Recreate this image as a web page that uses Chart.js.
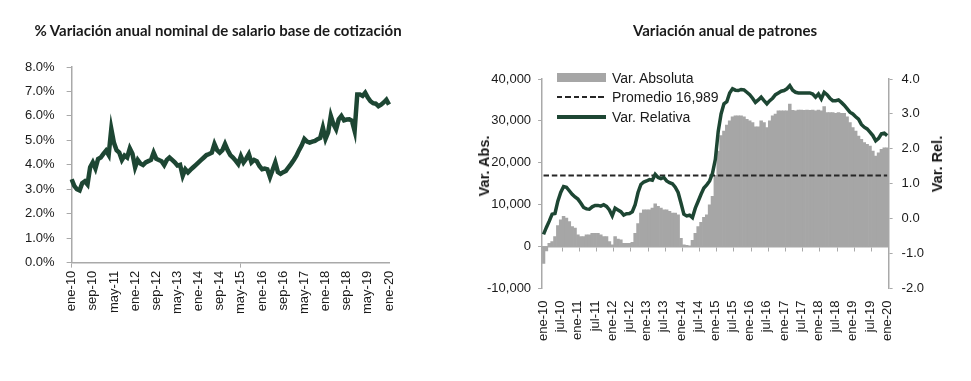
<!DOCTYPE html>
<html lang="es">
<head>
<meta charset="utf-8">
<script src="https://cdn.jsdelivr.net/npm/chart.js@4.4.1/dist/chart.umd.min.js"></script>
<style>
  body { margin: 0; background: #fff; width: 971px; height: 381px; position: relative; overflow: hidden;
         font-family: "Liberation Sans", Arial, sans-serif; color: #1a1a1a; }
  .caja { position: absolute; top: 0; height: 381px; }
  .titulo { position: absolute; font: bold 15px Lato, sans-serif; white-space: nowrap; transform: translate(-50%, -50%); }
  .eje { position: absolute; font: bold 14.5px "Liberation Sans", Arial, sans-serif; white-space: nowrap;
         transform: translate(-50%, -50%) rotate(-90deg); }
  .ley { position: absolute; font-size: 14px; white-space: nowrap; transform: translateY(-50%); }
  .marca { position: absolute; }
</style>
</head>
<body>
<div class="caja" style="left:0;width:480px"><canvas id="grafSalario" width="480" height="381"></canvas></div>
<div class="caja" style="left:480px;width:491px"><canvas id="grafPatrones" width="491" height="381"></canvas></div>

<div class="titulo" style="left:218px;top:30px">% Variación anual nominal de salario base de cotización</div>
<div class="titulo" style="left:725px;top:30px">Variación anual de patrones</div>
<div class="eje" style="left:484px;top:166px">Var. Abs.</div>
<div class="eje" style="left:937px;top:164px">Var. Rel.</div>

<!-- leyenda del gráfico de patrones -->
<div class="marca" style="left:557px;top:73px;width:49px;height:9px;background:#a6a6a6"></div>
<div class="ley" style="left:612px;top:77.5px">Var. Absoluta</div>
<div class="marca" style="left:557px;top:96px;width:49px;height:2px;background:repeating-linear-gradient(90deg,#262626 0 5.5px,transparent 5.5px 8.3px)"></div>
<div class="ley" style="left:612px;top:97px">Promedio 16,989</div>
<div class="marca" style="left:557px;top:115px;width:49px;height:3.5px;background:#1d4633"></div>
<div class="ley" style="left:612px;top:117px">Var. Relativa</div>

<script>
// Etiquetas mensuales ene-10 ... ene-20
const mesesNombres = ['ene', 'feb', 'mar', 'abr', 'may', 'jun', 'jul', 'ago', 'sep', 'oct', 'nov', 'dic'];
const etiquetas = [];
for (let a = 10; a <= 20; a++) {
    for (let m = 0; m < 12; m++) {
        if (a === 20 && m > 0) break;
        etiquetas.push(mesesNombres[m] + '-' + a);
    }
}

// % variación anual nominal del salario base de cotización
const salarioVar = [
    3.41, 3.14, 3.00, 2.95, 3.25, 3.33, 3.20, 3.90, 4.10, 3.85,
    4.24, 4.30, 4.45, 4.58, 4.40, 5.47, 4.90, 4.60, 4.50, 4.20,
    4.38, 4.30, 4.67, 4.45, 3.90, 4.20, 4.05, 3.99, 4.10, 4.15,
    4.20, 4.50, 4.25, 4.20, 4.15, 3.99, 4.20, 4.30, 4.20, 4.10,
    3.97, 4.00, 3.55, 3.82, 3.69, 3.80, 3.90, 4.00, 4.10, 4.20,
    4.30, 4.40, 4.44, 4.50, 4.85, 4.60, 4.50, 4.60, 4.85, 4.60,
    4.40, 4.30, 4.17, 4.03, 4.35, 4.10, 4.25, 4.44, 4.10, 4.20,
    4.15, 3.95, 3.82, 3.85, 3.82, 3.50, 3.80, 4.10, 3.70, 3.63,
    3.70, 3.75, 3.90, 4.04, 4.20, 4.37, 4.60, 4.80, 5.06, 4.95,
    4.91, 4.95, 4.98, 5.05, 5.10, 5.52, 5.06, 5.33, 6.00, 5.66,
    5.45, 5.86, 6.00, 5.82, 5.85, 5.86, 5.80, 5.39, 6.88, 6.88,
    6.82, 6.95, 6.75, 6.60, 6.52, 6.50, 6.40, 6.46, 6.55, 6.66,
    6.46
];

// Variación anual de patrones (absoluta)
const varAbsoluta = [
    -4000, -1000, 800, 1200, 2400, 5000, 6400, 7200, 6800, 6000,
    4800, 4400, 2800, 2400, 2400, 2800, 2800, 3200, 3200, 3200,
    2800, 2400, 2400, 1200, 400, 2400, 1800, 1600, 800, 800,
    800, 1000, 3200, 5500, 8000, 8800, 8800, 8800, 9200, 10200,
    9600, 9200, 8800, 8800, 8400, 8000, 8000, 7600, 2000, 400,
    300, 200, 1500, 3200, 4800, 5800, 7000, 7600, 10000, 12000,
    17000, 22800, 26500, 27600, 29000, 30000, 31000, 31200, 31200, 31200,
    31000, 30400, 30000, 29600, 28600, 28600, 30000, 29600, 28400, 30000,
    31200, 31600, 32400, 32400, 32400, 32400, 34000, 32500, 32400, 32600,
    32600, 32500, 32600, 32500, 32600, 32400, 32600, 32400, 33400, 32000,
    32000, 32000, 31800, 32000, 31800, 31800, 31000, 29600, 28400, 27600,
    26400, 25600, 24800, 24400, 24000, 22800, 21600, 22400, 23200, 23600,
    23600
];

// Variación anual de patrones (relativa, %)
const varRelativa = [
    -0.45, -0.25, -0.07, 0.13, 0.15, 0.50, 0.75, 0.92, 0.90, 0.80,
    0.70, 0.62, 0.56, 0.45, 0.32, 0.28, 0.27, 0.34, 0.38, 0.38,
    0.36, 0.40, 0.35, 0.25, 0.08, 0.30, 0.25, 0.20, 0.10, 0.14,
    0.15, 0.20, 0.40, 0.75, 0.98, 1.05, 1.08, 1.12, 1.10, 1.27,
    1.18, 1.15, 1.18, 1.08, 1.03, 1.00, 0.90, 0.75, 0.45, 0.13,
    0.08, 0.10, 0.03, 0.30, 0.50, 0.70, 0.88, 0.97, 1.08, 1.30,
    1.70, 2.50, 3.00, 3.29, 3.35, 3.60, 3.72, 3.68, 3.67, 3.70,
    3.69, 3.62, 3.55, 3.45, 3.33, 3.40, 3.48, 3.38, 3.29, 3.38,
    3.45, 3.55, 3.60, 3.65, 3.67, 3.72, 3.81, 3.68, 3.62, 3.60,
    3.60, 3.60, 3.60, 3.60, 3.57, 3.48, 3.57, 3.43, 3.62, 3.55,
    3.45, 3.38, 3.38, 3.40, 3.33, 3.25, 3.15, 3.05, 3.00, 2.92,
    2.85, 2.70, 2.62, 2.57, 2.48, 2.38, 2.23, 2.30, 2.43, 2.45,
    2.38
];

const promedio = 16989;

const verde = '#1d4633';
const grisEje = '#a9a9a9';
const colorTexto = '#1a1a1a';
const fuente = { family: '"Liberation Sans", Arial, sans-serif', size: 13 };
const transparente = 'rgba(0,0,0,0)';

// Gráfico izquierdo: salario base de cotización
new Chart(document.getElementById('grafSalario'), {
    type: 'line',
    data: {
        labels: etiquetas,
        datasets: [{ data: salarioVar, borderColor: verde, borderWidth: 4.5, pointRadius: 0, fill: false }]
    },
    options: {
        responsive: false, animation: false,
        layout: { padding: { top: 67, left: 13, right: 91, bottom: 64 } },
        plugins: { legend: { display: false }, tooltip: { enabled: false } },
        scales: {
            x: {
                offset: false,
                grid: { drawOnChartArea: false, tickLength: 5, tickColor: ctx => ctx.index % 8 === 0 ? grisEje : transparente },
                border: { color: grisEje, width: 1.5 },
                ticks: {
                    autoSkip: false, minRotation: 90, maxRotation: 90, padding: 3, color: colorTexto, font: fuente,
                    callback: (v, i) => i % 8 === 0 ? etiquetas[i] : null
                }
            },
            y: {
                min: 0, max: 8,
                grid: { drawOnChartArea: false, tickLength: 5, tickColor: grisEje },
                border: { color: grisEje, width: 1.5 },
                ticks: { stepSize: 1, padding: 12, color: colorTexto, font: fuente, callback: v => v.toFixed(1) + '%' }
            }
        }
    }
});

// Gráfico derecho: variación anual de patrones
new Chart(document.getElementById('grafPatrones'), {
    type: 'bar',
    data: {
        labels: etiquetas,
        datasets: [
            { type: 'line', label: 'Var. Relativa', data: varRelativa, yAxisID: 'y1', borderColor: verde, borderWidth: 3.5, pointRadius: 0, order: 1 },
            { type: 'line', label: 'Promedio 16,989', data: etiquetas.map(() => promedio), yAxisID: 'y', borderColor: '#262626', borderWidth: 2, borderDash: [5.5, 2.8], pointRadius: 0, order: 2 },
            { type: 'bar', label: 'Var. Absoluta', data: varAbsoluta, yAxisID: 'y', backgroundColor: '#a6a6a6', barPercentage: 1, categoryPercentage: 1, order: 3 }
        ]
    },
    options: {
        responsive: false, animation: false,
        layout: { padding: { top: 79, left: 0, right: 38, bottom: 36 } },
        plugins: { legend: { display: false }, tooltip: { enabled: false } },
        scales: {
            x: {
                grid: { display: false },
                border: { display: false },
                ticks: {
                    autoSkip: false, minRotation: 90, maxRotation: 90, padding: 4, color: colorTexto, font: fuente,
                    callback: (v, i) => i % 6 === 0 ? etiquetas[i] : null
                }
            },
            // eje de categorías sobre la línea del cero
            xCero: {
                type: 'category', position: { y: 0 }, offset: true,
                grid: { display: true, drawOnChartArea: false, offset: true, tickLength: 4, tickColor: ctx => ctx.index % 6 === 1 ? grisEje : transparente },
                border: { color: grisEje, width: 1.5 },
                ticks: { display: false }
            },
            y: {
                position: 'left', min: -10000, max: 40000,
                grid: { drawOnChartArea: false, tickLength: 4, tickColor: grisEje },
                border: { color: grisEje, width: 1.5 },
                ticks: { stepSize: 10000, padding: 7, color: colorTexto, font: fuente, callback: v => v.toLocaleString('en-US') }
            },
            y1: {
                position: 'right', min: -2, max: 4,
                grid: { drawOnChartArea: false, tickLength: 4, tickColor: grisEje },
                border: { color: grisEje, width: 1.5 },
                ticks: { stepSize: 1, padding: 9, color: colorTexto, font: fuente, callback: v => v.toFixed(1) }
            }
        }
    }
});
</script>
</body>
</html>
